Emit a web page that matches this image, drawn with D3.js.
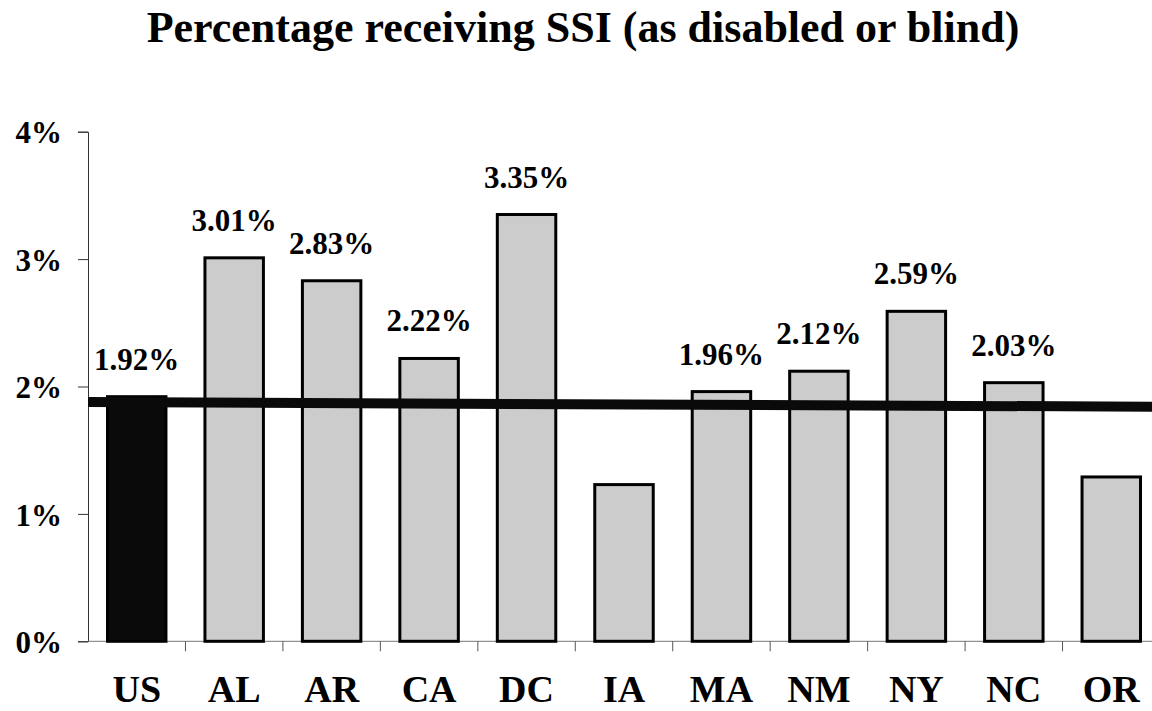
<!DOCTYPE html>
<html>
<head>
<meta charset="utf-8">
<script src="https://d3js.org/d3.v7.min.js"></script>
<style>
  html, body { margin: 0; padding: 0; background: #fff; }
  svg { display: block; }
</style>
</head>
<body>
<div id="chart"></div>
<script>
// Data
const states = ["US", "AL", "AR", "CA", "DC", "IA", "MA", "NM", "NY", "NC", "OR"];
const shares = [1.92, 3.01, 2.83, 2.22, 3.35, 1.23, 1.96, 2.12, 2.59, 2.03, 1.29];
const shareLabels = ["1.92%", "3.01%", "2.83%", "2.22%", "3.35%", "", "1.96%", "2.12%", "2.59%", "2.03%", ""];
const yTicks = [0, 1, 2, 3, 4];
// Thick reference line: value at the left end and at the right end of the axis
const trendValues = [1.878, 1.841];

const width = 1152;
const height = 711;
const plotLeft = 88, plotRight = 1160, plotTop = 131.7, plotBottom = 641.3;
const serif = "'Liberation Serif', 'Times New Roman', serif";

const svg = d3.select("#chart").append("svg")
    .attr("width", width)
    .attr("height", height);

const x = d3.scaleBand()
    .domain(states)
    .range([plotLeft, plotRight])
    .paddingInner(0.4)
    .paddingOuter(0.2);

const y = d3.scaleLinear()
    .domain([0, 4])
    .range([plotBottom, plotTop]);

// Title
svg.append("text")
    .attr("x", 583)
    .attr("y", 42)
    .attr("text-anchor", "middle")
    .attr("font-family", serif)
    .attr("font-weight", "bold")
    .attr("font-size", "44px")
    .text("Percentage receiving SSI (as disabled or blind)");

// Y axis
const yAxis = svg.append("g")
    .attr("transform", `translate(${plotLeft},0)`)
    .call(d3.axisLeft(y).tickValues(yTicks).tickSize(10).tickFormat(d => d + "%"));
yAxis.select(".domain").attr("stroke", "#333").attr("stroke-width", 1);
yAxis.selectAll(".tick line").attr("stroke", "#333");
yAxis.selectAll(".tick text")
    .attr("x", -26)
    .attr("dy", "0.36em")
    .attr("fill", "#000")
    .attr("font-family", serif)
    .attr("font-weight", "bold")
    .attr("font-size", "31px");

// X axis: ticks sit between the categories
const xAxis = svg.append("g")
    .attr("transform", `translate(0,${plotBottom})`);
xAxis.append("line")
    .attr("x1", plotLeft)
    .attr("x2", plotRight)
    .attr("stroke", "#777")
    .attr("stroke-width", 1);
const edges = states.map(s => x(s) - x.step() * x.paddingInner() / 2).concat([plotRight]);
xAxis.selectAll("line.tick")
    .data(edges.slice(1))
    .join("line")
    .attr("class", "tick")
    .attr("x1", d => d)
    .attr("x2", d => d)
    .attr("y1", 0)
    .attr("y2", 10)
    .attr("stroke", "#555");
xAxis.selectAll("text")
    .data(states)
    .join("text")
    .attr("x", d => x(d) + x.bandwidth() / 2)
    .attr("y", 61)
    .attr("text-anchor", "middle")
    .attr("font-family", serif)
    .attr("font-weight", "bold")
    .attr("font-size", "38px")
    .text(d => d);

// Bars
svg.append("g").selectAll("rect")
    .data(states)
    .join("rect")
    .attr("x", d => x(d))
    .attr("y", (d, i) => y(shares[i]))
    .attr("width", x.bandwidth())
    .attr("height", (d, i) => plotBottom - y(shares[i]))
    .attr("fill", (d, i) => i === 0 ? "#0a0a0a" : "#cccccc")
    .attr("stroke", "#000")
    .attr("stroke-width", 3);

// Value labels
svg.append("g").selectAll("text")
    .data(states)
    .join("text")
    .attr("x", d => x(d) + x.bandwidth() / 2)
    .attr("y", (d, i) => y(shares[i]) - 27)
    .attr("text-anchor", "middle")
    .attr("font-family", serif)
    .attr("font-weight", "bold")
    .attr("font-size", "31px")
    .text((d, i) => shareLabels[i]);

// Thick reference line across the plot
const tx = d3.scaleLinear().domain([0, 1]).range([plotLeft, plotRight]);
svg.append("path")
    .datum(trendValues)
    .attr("d", d3.line().x((d, i) => tx(i)).y(d => y(d)))
    .attr("stroke", "#0a0a0a")
    .attr("stroke-width", 10)
    .attr("fill", "none");
</script>
</body>
</html>
